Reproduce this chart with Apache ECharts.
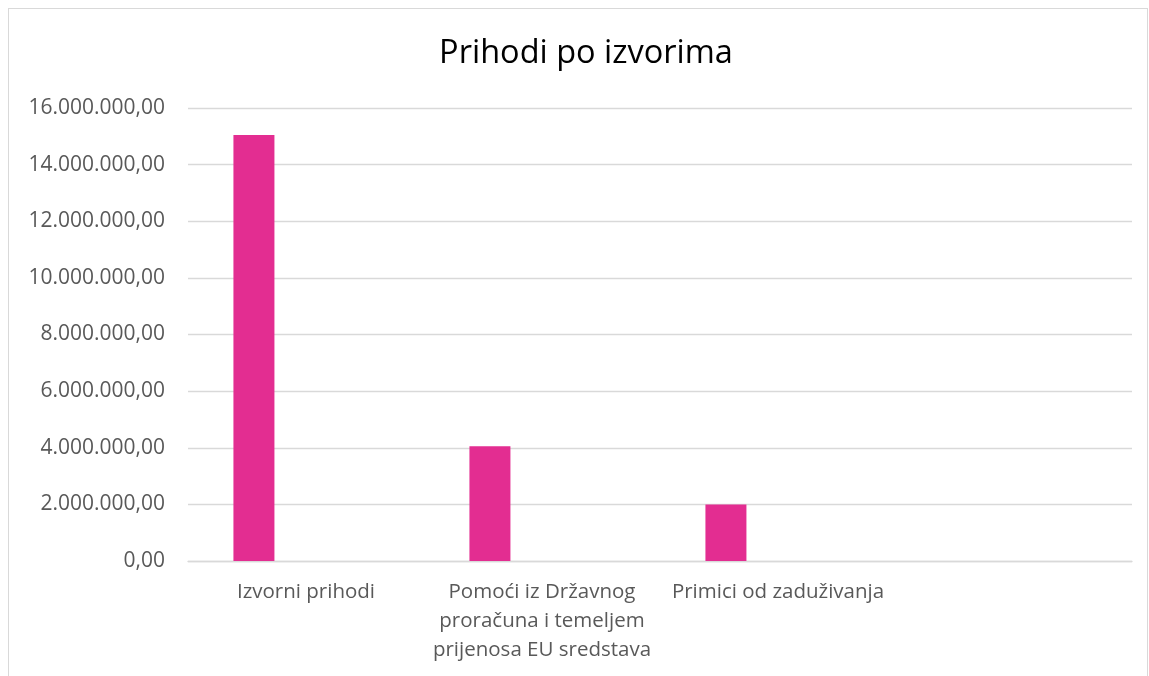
<!DOCTYPE html>
<html>
<head>
<meta charset="utf-8">
<script src="https://cdn.jsdelivr.net/npm/echarts@6/dist/echarts.min.js"></script>
<style>
html,body{margin:0;padding:0;background:#fff;}
#frame{position:absolute;left:8px;top:8px;width:1140px;height:668px;border:1px solid #d9d9d9;border-bottom:none;box-sizing:border-box;}
#c{position:absolute;left:0;top:0;width:1149px;height:676px;}
</style>
</head>
<body>
<div id="frame"></div>
<div id="c"></div>
<script>
const title = 'Prihodi po izvorima';
const categories = ['Izvorni prihodi', 'Pomoći iz Državnog\nproračuna i temeljem\nprijenosa EU sredstava', 'Primici od zaduživanja', ''];
const seriesValues = [15050000, 4050000, 2000000, null];
const emptySeries2 = [null, null, null, null];
const emptySeries3 = [null, null, null, null];
const yMin = 0, yMax = 16000000, yStep = 2000000;

function fmt(v){
  const s = Math.round(v).toString().replace(/\B(?=(\d{3})+(?!\d))/g, '.');
  return s + ',00';
}

const chart = echarts.init(document.getElementById('c'), null, {renderer:'canvas'});
const font = '"Open Sans", sans-serif';
chart.setOption({
  animation:false,
  backgroundColor:'transparent',
  title:{text:title,left:581,textAlign:'center',top:32,textStyle:{fontFamily:font,fontSize:32.5,fontWeight:'normal',color:'#000'}},
  grid:{left:188,right:17,top:108,bottom:115,containLabel:false},
  xAxis:{type:'category',data:categories,
    axisLine:{lineStyle:{color:'#d9d9d9',width:1.3}},axisTick:{show:false},
    axisLabel:{interval:0,margin:17,color:'#595959',fontFamily:font,fontSize:20.5,lineHeight:29}},
  yAxis:{type:'value',min:yMin,max:yMax,interval:yStep,
    axisLine:{show:false},axisTick:{show:false},
    splitLine:{lineStyle:{color:'#d9d9d9',width:1.3}},
    axisLabel:{margin:23,color:'#595959',fontFamily:font,fontSize:21,formatter:fmt}},
  series:[
    {type:'bar',data:seriesValues,barWidth:41,barGap:'27%',itemStyle:{color:'#E32D91'}},
    {type:'bar',data:emptySeries2,barWidth:41,barGap:'27%',itemStyle:{color:'#ED7D31'}},
    {type:'bar',data:emptySeries3,barWidth:41,barGap:'27%',itemStyle:{color:'#A5A5A5'}}
  ]
});
</script>
</body>
</html>
